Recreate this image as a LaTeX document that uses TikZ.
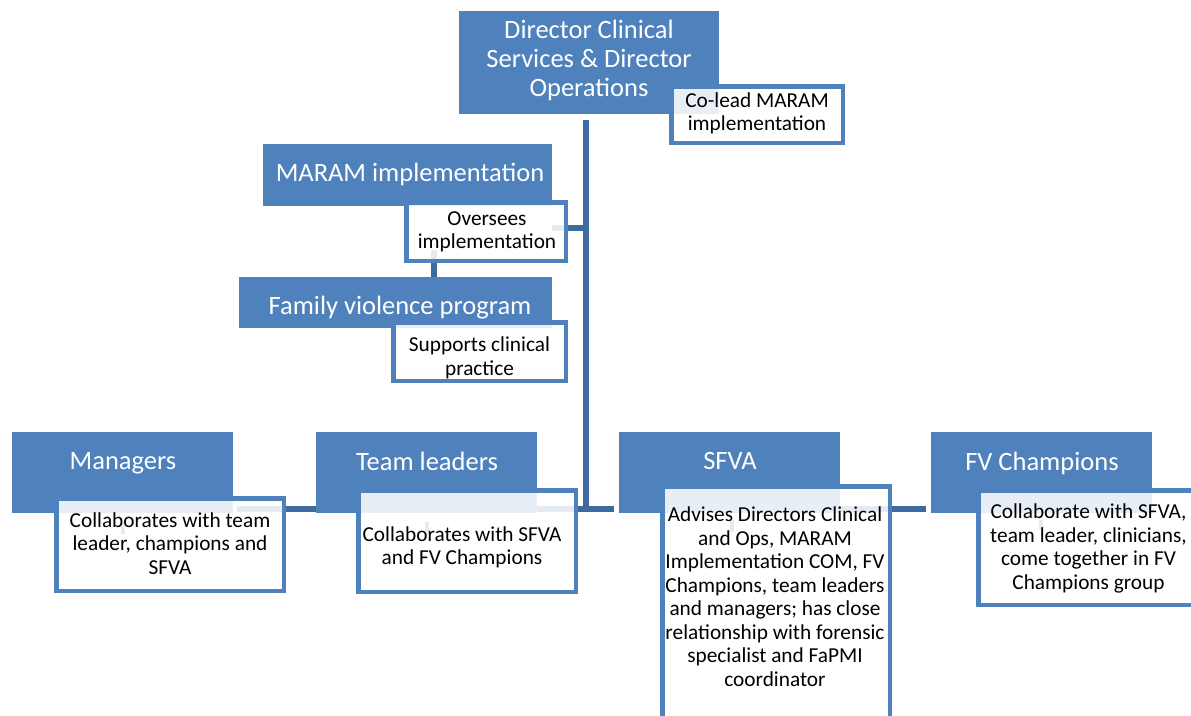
\documentclass[tikz,border=0pt]{standalone}
\usepackage{fontspec}
\setmainfont{Carlito}
\usetikzlibrary{calc,backgrounds}
\definecolor{boxblue}{HTML}{4F81BD}
\definecolor{linkblue}{HTML}{3E6A9D}
\begin{document}
\begin{tikzpicture}[x=1pt,y=-1pt,
  bluebox/.style={fill=boxblue, draw=none, inner sep=0pt},
  descbox/.style={draw=boxblue, line width=4.5pt, fill=white, fill opacity=0.87, draw opacity=1, text opacity=1, inner sep=0pt},
  bigtext/.style={text=white, align=center, inner sep=0pt, font=\fontsize{26.5}{29}\selectfont},
  smalltext/.style={text=black, align=center, inner sep=0pt, font=\fontsize{21.3}{23.5}\selectfont},
  conn/.style={draw=linkblue, line width=6pt},
  tick/.style={draw=linkblue, line width=4pt}]
\useasboundingbox (0,0) rectangle (1191,715);
\clip (0,0) rectangle (1191,715);

% top
\node[bluebox, minimum width=260pt, minimum height=103pt] (director) at (589,62.5) {};
\node[bigtext] (director-t) at (589,60) {Director Clinical\\Services \& Director\\Operations};
\node[descbox, minimum width=171.5pt, minimum height=56.5pt] (colead) at (757,114.5) {};
\node[smalltext] (colead-t) at (757,113.5) {Co-lead MARAM\\implementation};

\node[bluebox, minimum width=289pt, minimum height=62pt] (maram) at (407.5,175) {};
\node[bigtext] (maram-t) at (410,174) {MARAM implementation};
\node[descbox, minimum width=159.5pt, minimum height=58.5pt] (oversees) at (486,231.5) {};
\node[smalltext] (oversees-t) at (487,232) {Oversees\\implementation};

\node[bluebox, minimum width=313pt, minimum height=51pt] (family) at (395.5,302.5) {};
\node[bigtext] (family-t) at (400,307.5) {Family violence program};
\node[descbox, minimum width=172.5pt, minimum height=58.5pt] (supports) at (479.5,351.5) {};
\node[smalltext] (supports-t) at (479.5,358) {Supports clinical\\practice};

% bottom row
\node[bluebox, minimum width=221pt, minimum height=81pt] (managers) at (122.5,472.5) {};
\node[bigtext] (managers-t) at (123,463) {Managers};
\node[descbox, minimum width=227.5pt, minimum height=92.5pt] (managers-d) at (170,544.5) {};
\node[smalltext] (managers-dt) at (170,543.5) {Collaborates with team\\leader, champions and\\SFVA};

\node[bluebox, minimum width=221pt, minimum height=81pt] (team) at (426.5,472.5) {};
\node[bigtext] (team-t) at (427,461) {Team leaders};
\node[descbox, minimum width=217.5pt, minimum height=101.5pt] (team-d) at (467,541) {};
\node[smalltext] (team-dt) at (462,547.5) {Collaborates with SFVA\\and FV Champions};

\node[bluebox, minimum width=221pt, minimum height=81pt] (sfva) at (729.5,472.5) {};
\node[bigtext] (sfva-t) at (730,461) {SFVA};
\node[descbox, minimum width=227.5pt, minimum height=251.5pt] (sfva-d) at (776,612) {};
\node[smalltext] (sfva-dt) at (775,596.5) {Advises Directors Clinical\\and Ops, MARAM\\Implementation COM, FV\\Champions, team leaders\\and managers; has close\\relationship with forensic\\specialist and FaPMI\\coordinator};

\node[bluebox, minimum width=221pt, minimum height=81pt] (fv) at (1041.5,472.5) {};
\node[bigtext] (fv-t) at (1042,463) {FV Champions};
\node[descbox, minimum width=219.5pt, minimum height=114.5pt] (fv-d) at (1088,547.5) {};
\node[smalltext] (fv-dt) at (1088.5,548.5) {Collaborate with SFVA,\\team leader, clinicians,\\come together in FV\\Champions group};

% connectors
\begin{pgfonlayer}{background}
\coordinate (trunkTop) at (586,120);
\coordinate (trunkBot) at (586,509);
\coordinate (trunkMaram) at (586,228);
\draw[conn] (trunkTop) -- (trunkBot);
\draw[conn] (maram.east |- trunkMaram) -- (trunkMaram);
\draw[conn] (434,250) -- (family.north -| 434,0);
\draw[conn] ([xshift=4pt,yshift=4pt]managers.south east) -- ([xshift=-5pt,yshift=4pt]sfva.south west);
\draw[conn] ([yshift=4pt]sfva.south east) -- ([xshift=-5pt,yshift=4pt]fv.south west);
\draw[tick] ([yshift=-9pt]managers.south) -- ++(0,12);
\draw[tick] ([yshift=-9pt]team.south) -- ++(0,12);
\draw[tick] ([xshift=2pt,yshift=-7pt]sfva.south) -- ++(0,12);
\draw[tick] ([xshift=-1pt,yshift=-7pt]fv.south) -- ++(0,10);
\end{pgfonlayer}
\end{tikzpicture}
\end{document}
